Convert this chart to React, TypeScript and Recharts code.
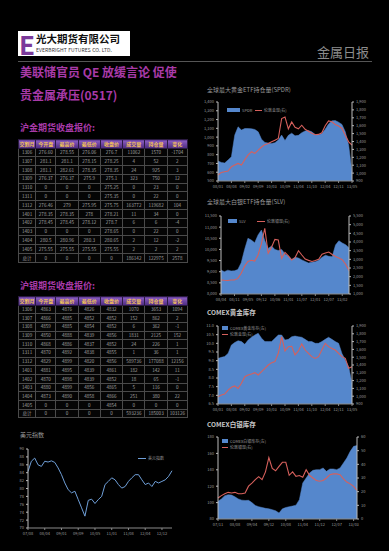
import React from 'react';
import { ComposedChart, LineChart, Area, Line, XAxis, YAxis } from 'recharts';

const FONT = '"Noto Sans CJK SC", "Noto Sans", sans-serif';

const dates44 = ["07/08","07/10","07/11","08/01","08/03","08/04","08/06","08/08","08/09","08/11","09/01","09/02","09/04","09/05","09/07","09/09","09/10","09/12","10/01","10/03","10/05","10/06","10/08","10/09","10/11","11/01","11/02","11/04","11/05","11/07","11/08","11/10","11/12","12/01","12/03","12/04","12/06","12/07","12/09","12/11","12/12","13/02","13/03","13/05"];

const spdrHold = [727,712,705,739,776,1023,1117,1080,1098,1098,1095,1087,1060,975,940,932,928,936,966,1023,960,1020,1045,1015,1020,1050,1070,1075,1060,1030,1025,1040,1090,1150,1185,1188,1170,1145,1060,909,600];
const goldPx1 = [976,1009,1018,1026,1081,1102,1123,1102,1170,1230,1270,1249,1291,1330,1360,1375,1396,1417,1438,1690,1711,1560,1648,1580,1560,1606,1555,1530,1505,1485,1490,1510,1600,1660,1650,1615,1595,1565,1480,1396,1354];

const slvHold = [9076,9000,9070,9035,9040,9100,9400,10000,10500,10420,10300,10650,10870,10400,10046,10150,10000,9950,10000,9800,9700,9550,9650,9610,9530,9460,9390,9430,9450,9510,9650,9740,9690,9673,10200,10390,10290,10210,10080];
const silverPx2 = [1808,1790,1780,1805,1808,1900,2200,2600,2880,2950,2900,3250,3900,4788,3346,3700,4150,4115,3058,3400,3200,2960,3100,3500,3250,3020,2940,2880,2930,3000,3300,3360,3420,3280,3170,3080,2980,2720,2350];

const comexGold = [9.13,9.19,9.24,9.42,9.9,10.05,10.15,10.1,9.94,10.19,10.35,10.48,10.58,10.29,10.1,10.1,10.1,10.29,10.48,10.48,10.19,10.23,10.38,10.42,10.38,10.35,10.23,10.1,10.1,10.0,10.0,10.1,10.23,10.35,10.23,10.1,10.0,9.42,9.04,8.65,7.69];
const goldPx3 = [994,1015,1028,1079,1114,1131,1100,1165,1250,1272,1285,1302,1272,1314,1357,1400,1430,1443,1550,1760,1580,1635,1640,1530,1580,1670,1592,1550,1507,1485,1507,1592,1678,1635,1613,1592,1550,1507,1485,1357,1378];

const comexSilver = [101.5,104.5,108.5,109.7,109.2,107,104.5,103,102.6,102.8,100,96.5,95,94,93,92.4,91.4,90,87.3,92.4,94,95,95.8,96.9,103.6,123.9,130,136.1,139.3,140.2,140.2,142.2,138.1,141,141,140.2,142.2,148.3,154.4,162.5,168.6,169.5];
const silverPx4 = [15.4,17.1,18.5,19.5,19.0,19.5,18.5,18.5,19.0,24,26.3,28.8,31,28.8,34.5,45,37,35.3,38.5,41.5,41.5,32,34.5,31.2,31.8,30.5,36.1,32,30,28.2,27.6,28.2,30,32.4,33,33,32.4,29.4,27,25.7,23.9,21];

const usdIndex = [84.3,86.9,87.7,86.0,85.6,86.9,86.7,87.0,86.6,85.2,83.5,81.4,79.7,78.9,79.3,77.2,75.1,73.0,77.0,77.3,76.2,77.2,78.0,81.0,81.8,82.7,82.2,81.0,80.1,80.5,81.8,82.7,83.5,83.5,82.2,81.0,81.4,80.5,81.8,81.4,81.8,82.2,83.1,84.5];

const tableCols = ["交割月","今开盘","最高价","最低价","收盘价","成交量","持仓量","变化"];
const goldRows = [
  ["1306","276.60","278.55","276.06","276.7","11062","1570","-1704"],
  ["1307","281.1","281.1","278.15","278.25","4","52","2"],
  ["1308","281.1","282.61","278.35","278.35","24","925","3"],
  ["1309","276.37","276.37","275.9","275.1","323","750","12"],
  ["1310","0","0","0","275.25","0","23","0"],
  ["1311","0","0","0","275.35","0","22","0"],
  ["1312","276.46","279","275.95","275.75","163772","119682","104"],
  ["1401","278.35","278.35","278","278.21","11","34","0"],
  ["1402","278.45","278.45","278.12","278.7","6","6","-4"],
  ["1403","0","0","0","278.65","0","22","0"],
  ["1404","280.5","280.96","280.3","280.65","2","12","-2"],
  ["1405","275.55","275.55","275.55","275.55","2","2","2"],
  ["总计","0","0","0","0","186142","122975","2578"],
];
const silverRows = [
  ["1306","4863","4876","4826","4832","1070","3653","1094"],
  ["1307","4866","4885","4852","4852","152","862","2"],
  ["1308","4859","4885","4854","4852","6","362","-1"],
  ["1309","4850","4888","4839","4856","1831","2125","152"],
  ["1310","4868","4886","4837","4852","24","226","1"],
  ["1311","4870","4892","4838","4855","1","36","1"],
  ["1312","4829","4899","4820","4856","589736","177088","12156"],
  ["1401","4881","4895","4839","4861","182","142","11"],
  ["1402","4870","4898","4839","4852","18","65","-1"],
  ["1403","4880","4899","4856","4865","5","116","0"],
  ["1404","4873","4890","4858","4866","251","380","22"],
  ["1405","0","0","0","4854","0","0","0"],
  ["总计","0","0","0","0","593236","185003","103126"],
];

const spdrLeftTicks = [500,600,700,800,900,1000,1100,1200,1300,1400];
const spdrRightTicks = [900,1000,1100,1200,1300,1400,1500,1600,1700,1800,1900];
const slvLeftTicks = [8000,8500,9000,9500,10000,10500,11000,11500];
const slvRightTicks = [1000,1500,2000,2500,3000,3500,4000,4500,5000,5500];
const cgLeftTicks = [6.5,7,7.5,8,8.5,9,9.5,10,10.5,11];
const cgRightTicks = [900,1000,1100,1200,1300,1400,1500,1600,1700,1800,1900];
const csLeftTicks = [80,100,120,140,160,180];
const csRightTicks = [0,10,20,30,40,50,60];
const usdTicks = [70,72,74,76,78,80,82,84,86,88,90];

const AREA = '#5587cc';
const RED = '#d6605c';
const TICK = { fontSize: 4, fill: '#9a9a9a', fontFamily: FONT };
const fmt = (v: number) => (Math.abs(v) >= 1000 ? v.toLocaleString('en-US') : String(v));

function build(a: number[], b: number[]) {
  const dd = dates44.slice(44 - a.length);
  return a.map((v, i) => ({ d: dd[i], a: v, b: b[i] }));
}

function DualChart(p: any) {
  const lw = 16, rw = 18, xh = 9, mt = 3;
  const left = p.x0 - lw, top = p.y0 - mt;
  const width = p.x1 + rw - left, height = p.y1 + xh - top;
  return (
    <div style={{ position: 'absolute', left, top }}>
      <ComposedChart width={width} height={height} data={p.data} margin={{ top: mt, right: 0, bottom: 0, left: 0 }}>
        <XAxis dataKey="d" height={xh} tick={TICK} tickSize={2} interval={p.interval} stroke="#8a8a8a" />
        <YAxis yAxisId="l" width={lw} domain={p.lDomain} ticks={p.lTicks} tick={TICK} tickSize={2} tickFormatter={p.lFmt || fmt} stroke="#bbbbbb" allowDataOverflow interval={0} />
        <YAxis yAxisId="r" orientation="right" width={rw} domain={p.rDomain} ticks={p.rTicks} tick={TICK} tickSize={2} tickFormatter={fmt} stroke="#bbbbbb" allowDataOverflow interval={0} />
        <Area yAxisId="l" type="linear" dataKey="a" fill={AREA} fillOpacity={1} stroke={AREA} strokeWidth={0.5} isAnimationActive={false} dot={false} />
        <Line yAxisId="r" type="linear" dataKey="b" stroke={RED} strokeWidth={1.1} dot={false} isAnimationActive={false} />
      </ComposedChart>
    </div>
  );
}

function Txt(p: any) {
  return (
    <div style={{ position: 'absolute', left: p.x, top: p.y, fontFamily: FONT, fontSize: p.size, color: p.color, fontWeight: p.bold ? 700 : 400, whiteSpace: 'pre', lineHeight: 1, letterSpacing: p.ls || 0 }}>
      {p.children}
    </div>
  );
}

function Swatch(p: any) {
  return (
    <div style={{ position: 'absolute', left: p.x, top: p.y, display: 'flex', alignItems: 'center', fontFamily: FONT, fontSize: 4, color: '#9a9a9a', whiteSpace: 'nowrap' }}>
      {p.kind === 'box'
        ? <div style={{ width: p.w || 10, height: 3.5, background: p.color, marginRight: 2 }} />
        : <div style={{ width: p.w || 8, height: 1, background: p.color, marginRight: 2 }} />}
      <span style={{ lineHeight: 1 }}>{p.label}</span>
    </div>
  );
}

function PriceTable(p: any) {
  const widths = [17, 20, 22, 22, 22, 22, 22, 20];
  return (
    <table style={{ position: 'absolute', left: 18, top: p.top, width: 170, borderCollapse: 'collapse', tableLayout: 'fixed', fontFamily: FONT }}>
      <colgroup>{widths.map((w, i) => <col key={i} style={{ width: w }} />)}</colgroup>
      <tbody>
        <tr style={{ height: 8.5 }}>
          {tableCols.map((c, i) => (
            <td key={i} style={{ padding: 0, border: '1px solid #2a1a40', background: 'linear-gradient(#8a5cc0, #4b2a80)', color: '#f3c25a', fontSize: 5, fontWeight: 700, textAlign: 'center', lineHeight: 1, whiteSpace: 'nowrap', overflow: 'hidden' }}>{c}</td>
          ))}
        </tr>
        {p.rows.map((r: string[], ri: number) => (
          <tr key={ri} style={{ height: p.rowH }}>
            {r.map((c, i) => (
              <td key={i} style={{ padding: 0, border: '1px solid #4a4a4a', background: '#050505', color: '#a0a0a0', fontSize: 4.6, textAlign: 'center', lineHeight: 1, whiteSpace: 'nowrap', overflow: 'hidden' }}>{c}</td>
            ))}
          </tr>
        ))}
      </tbody>
    </table>
  );
}

export default function App() {
  const usdData = usdIndex.map((v, i) => ({ d: dates44[i], v }));
  return (
    <div style={{ position: 'absolute', left: 0, top: 0, width: 389, height: 551, background: '#000', overflow: 'hidden' }}>
      {/* logo */}
      <div style={{ position: 'absolute', left: 18, top: 31, width: 112, height: 25, background: '#fff' }} />
      <Txt x={19} y={31} size={26} color="#7b3a9a" bold>E</Txt>
      <Txt x={36} y={34} size={10.5} color="#111" bold>光大期货有限公司</Txt>
      <Txt x={36} y={47} size={5} color="#333" ls={0.1}>EVERBRIGHT FUTURES CO. LTD.</Txt>
      <Txt x={317} y={45} size={13} color="#8c8c8c">金属日报</Txt>
      <div style={{ position: 'absolute', left: 18, top: 61, width: 354, height: 1, background: '#555' }} />
      <Txt x={20} y={66} size={12} color="#a83aa8" bold>美联储官员 QE 放缓言论 促使</Txt>
      <Txt x={20} y={89} size={12} color="#a83aa8" bold>贵金属承压(0517)</Txt>

      <Txt x={20} y={123} size={9} color="#a83aa8" bold>沪金期货收盘报价:</Txt>
      <PriceTable top={139} rows={goldRows} rowH={8.8} />
      <Txt x={20} y={281} size={9} color="#a83aa8" bold>沪银期货收盘报价:</Txt>
      <PriceTable top={296} rows={silverRows} rowH={8.7} />

      {/* USD index */}
      <Txt x={20} y={432} size={6} color="#9a9a9a">美元指数</Txt>
      <div style={{ position: 'absolute', left: 28 - 16, top: 449 - 3 }}>
        <LineChart width={172 - 12 + 4} height={528 + 9 - 446} data={usdData} margin={{ top: 3, right: 4, bottom: 0, left: 0 }}>
          <XAxis dataKey="d" height={9} tick={TICK} tickSize={2} interval={4} stroke="#8a8a8a" />
          <YAxis width={16} domain={[70, 90]} ticks={usdTicks} tick={TICK} tickSize={2} stroke="#bbbbbb" interval={0} />
          <Line type="linear" dataKey="v" stroke="#6f9fd8" strokeWidth={1} dot={false} isAnimationActive={false} />
        </LineChart>
      </div>
      <Swatch x={138} y={456} kind="line" color="#6f9fd8" label="美元指数" />

      {/* right charts */}
      <Txt x={207} y={87} size={6} color="#9a9a9a">全球最大黄金ETF持仓量(SPDR)</Txt>
      <DualChart x0={218} y0={102} x1={352} y1={181} data={build(spdrHold, goldPx1)} lDomain={[500, 1400]} lTicks={spdrLeftTicks} rDomain={[900, 1900]} rTicks={spdrRightTicks} interval={3} />
      <Swatch x={227} y={108} kind="box" color={AREA} w={13} label="SPDR" />
      <Swatch x={255} y={108} kind="line" color={RED} w={7} label="伦敦金现(右)" />

      <Txt x={207} y={199} size={6} color="#9a9a9a">全球最大白银ETF持仓量(SLV)</Txt>
      <DualChart x0={221} y0={216} x1={349} y1={294} data={build(slvHold, silverPx2)} lDomain={[8000, 11500]} lTicks={slvLeftTicks} rDomain={[1000, 5500]} rTicks={slvRightTicks} interval={3} />
      <Swatch x={228} y={219} kind="box" color={AREA} w={9} label="SLV" />
      <Swatch x={257} y={219} kind="line" color={RED} w={8} label="伦敦银现(右)" />

      <Txt x={207} y={309} size={6.5} color="#c8c8c8" bold>COMEX黄金库存</Txt>
      <DualChart x0={218} y0={326} x1={352} y1={404} data={build(comexGold, goldPx3)} lDomain={[6.5, 11]} lTicks={cgLeftTicks} rDomain={[900, 1900]} rTicks={cgRightTicks} interval={3} lFmt={(v: number) => v.toFixed(1)} />
      <Swatch x={222} y={326} kind="box" color={AREA} w={6} label="COMEX黄金库存(左)" />
      <Swatch x={222} y={332} kind="line" color={RED} w={6} label="伦敦金现(右)" />

      <Txt x={207} y={421} size={6.5} color="#c8c8c8" bold>COMEX白银库存</Txt>
      <DualChart x0={218} y0={437} x1={357} y1={519} data={build(comexSilver, silverPx4)} lDomain={[80, 180]} lTicks={csLeftTicks} rDomain={[0, 60]} rTicks={csRightTicks} interval={4} />
      <Swatch x={222} y={439} kind="box" color={AREA} w={6} label="COMEX白银库存(左)" />
      <Swatch x={222} y={445} kind="line" color={RED} w={6} label="伦敦银现(右)" />
    </div>
  );
}
